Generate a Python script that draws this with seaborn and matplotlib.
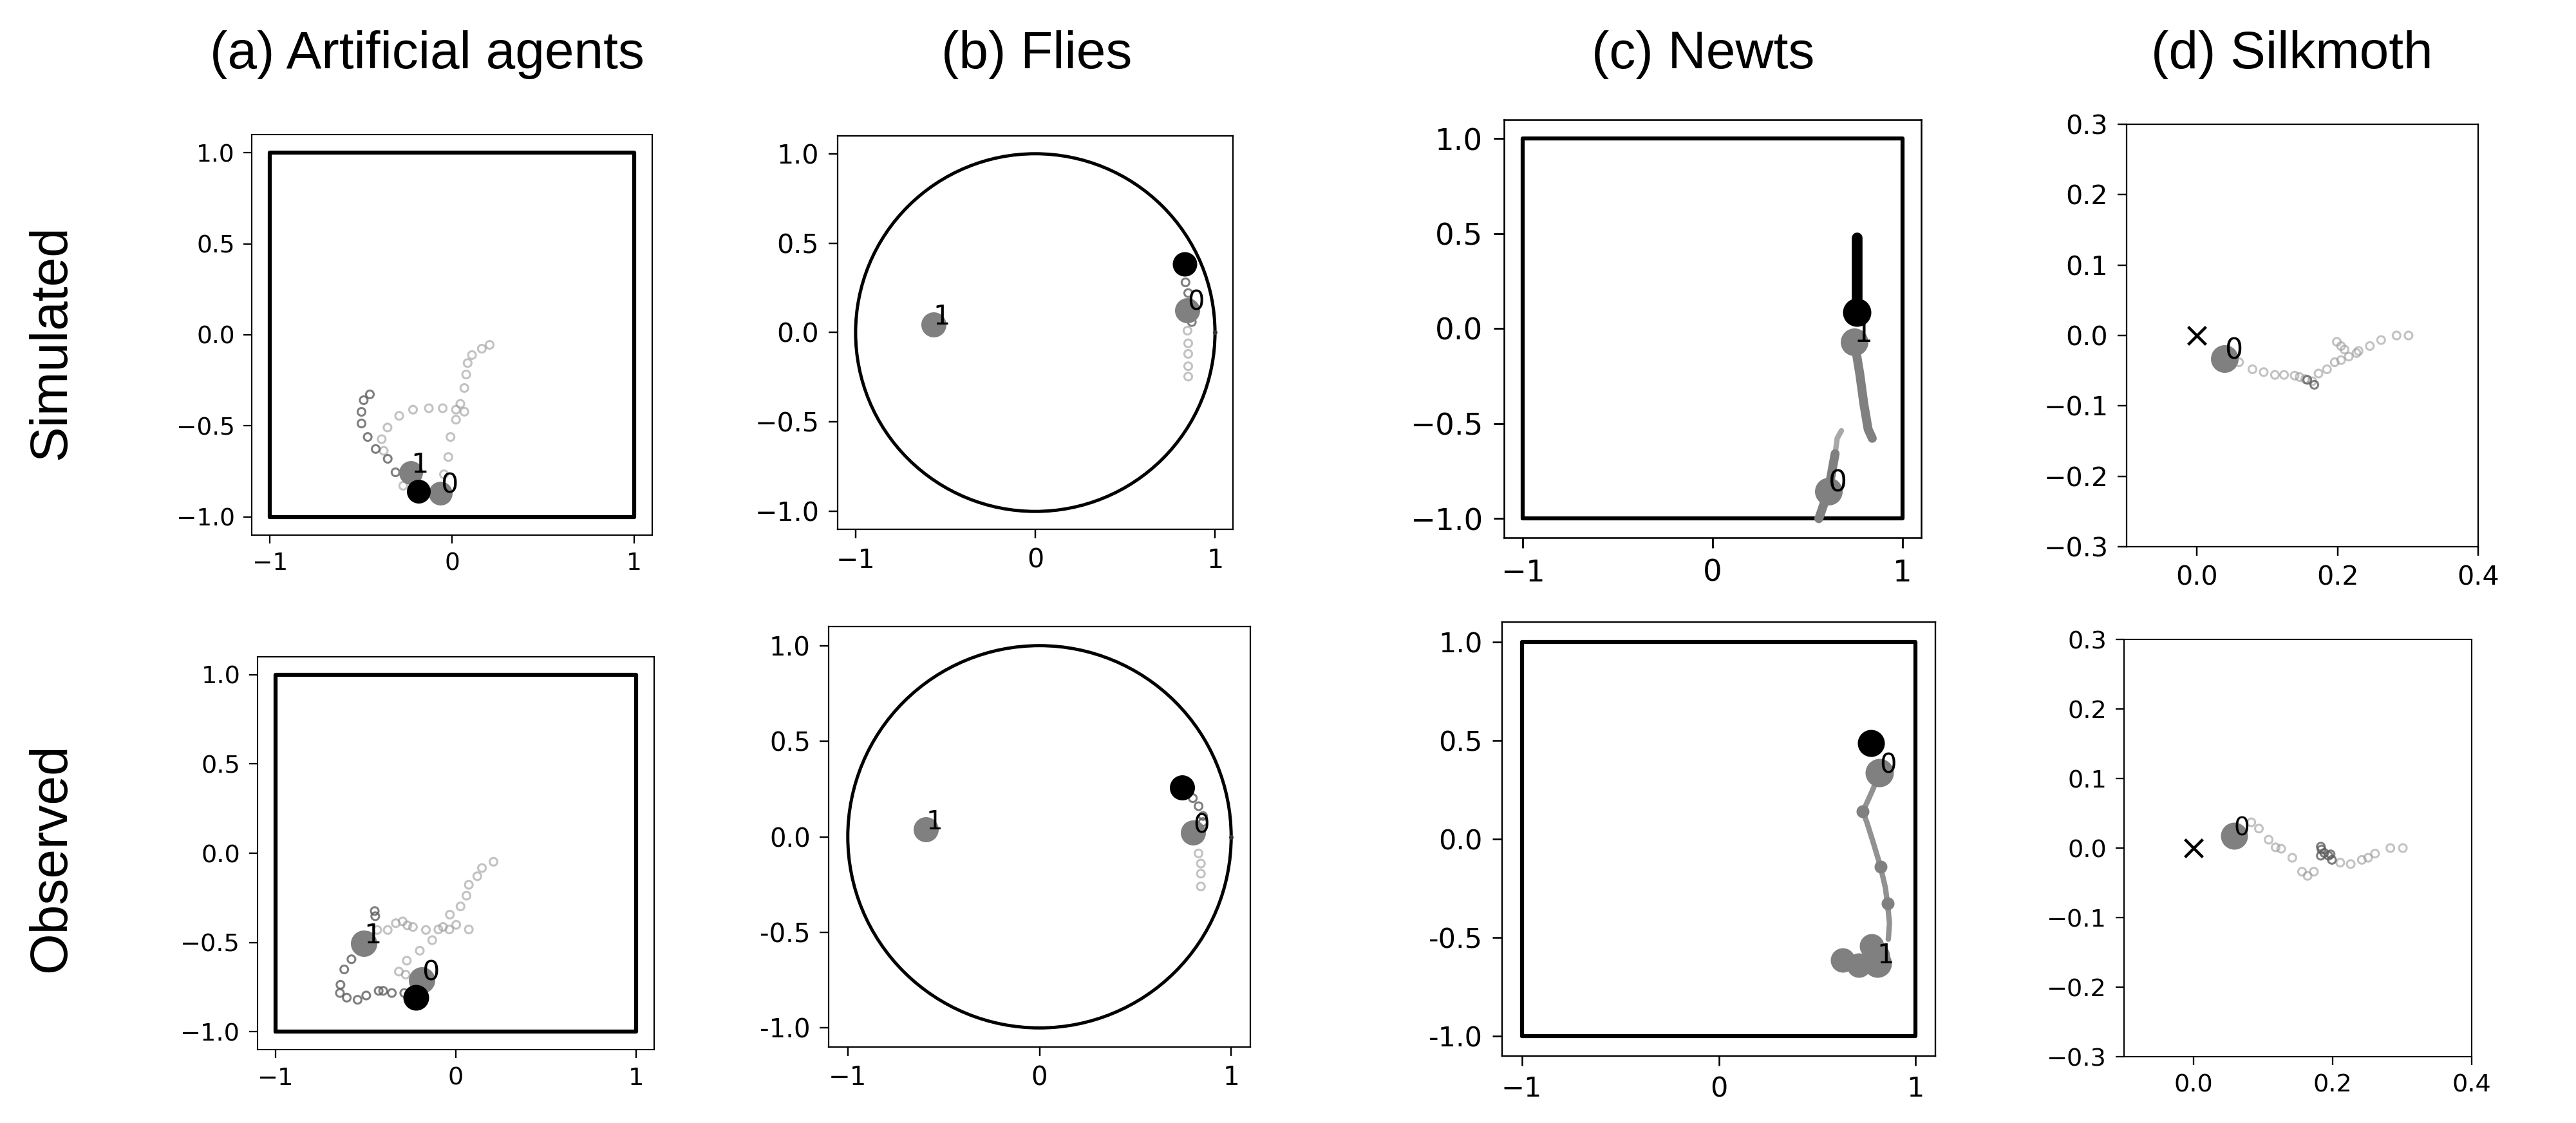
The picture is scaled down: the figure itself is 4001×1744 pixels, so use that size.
import pandas as pd
import seaborn as sns
import matplotlib.pyplot as plt

# titles
col_titles = ["(a) Artificial agents", "(b) Flies", "(c) Newts", "(d) Silkmoth"]
row_titles = ["Simulated", "Observed"]

# arenas
arena_x = [-1, 1, 1, -1, -1]
arena_y = [-1, -1, 1, 1, -1]
fly_arena_r = 1.0
fly_edge_x = [1.0]
fly_edge_y = [0.0]
odor_x = [0.0]
odor_y = [0.0]

# (a) artificial agents - simulated
agents_sim_pos_x = [-0.064, -0.225]
agents_sim_pos_y = [-0.869, -0.758]
agents_sim_black_x = [-0.183]
agents_sim_black_y = [-0.861]
agents_sim_dark_x = [-0.451, -0.485, -0.497, -0.497, -0.463, -0.419, -0.353, -0.31]
agents_sim_dark_y = [-0.327, -0.359, -0.423, -0.487, -0.561, -0.627, -0.681, -0.755]
agents_sim_light_x = [0.207, 0.164, 0.110, 0.086, 0.078, 0.068, 0.046, 0.068, 0.022, -0.008, -0.020,
                      -0.044, 0.022, -0.051, -0.127, -0.214, -0.29, -0.354, -0.386, -0.375, -0.268]
agents_sim_light_y = [-0.055, -0.076, -0.111, -0.155, -0.218, -0.292, -0.379, -0.422, -0.466, -0.561, -0.671,
                      -0.766, -0.411, -0.403, -0.403, -0.411, -0.445, -0.509, -0.573, -0.637, -0.829]

# (a) artificial agents - observed
agents_obs_pos_x = [-0.188, -0.51]
agents_obs_pos_y = [-0.711, -0.504]
agents_obs_black_x = [-0.222]
agents_obs_black_y = [-0.809]
agents_obs_dark_x = [-0.45, -0.447, -0.484, -0.522, -0.579, -0.619, -0.64, -0.643, -0.605, -0.545, -0.497,
                     -0.428, -0.403, -0.355, -0.286]
agents_obs_dark_y = [-0.324, -0.353, -0.465, -0.534, -0.594, -0.651, -0.737, -0.783, -0.809, -0.821, -0.797,
                     -0.771, -0.771, -0.783, -0.783]
agents_obs_light_x = [-0.436, -0.378, -0.333, -0.295, -0.269, -0.238, -0.166, -0.097, -0.071, -0.036, 0.002,
                      0.072, -0.131, -0.2, -0.272, -0.316, -0.278, 0.209, 0.145, 0.119, 0.072, 0.059, 0.026, -0.033]
agents_obs_light_y = [-0.43, -0.43, -0.392, -0.382, -0.404, -0.413, -0.43, -0.427, -0.413, -0.427, -0.401,
                      -0.427, -0.487, -0.546, -0.602, -0.663, -0.68, -0.048, -0.083, -0.129, -0.177, -0.238,
                      -0.298, -0.344]

# (b) flies - simulated
flies_sim_pos_x = [0.847, -0.567]
flies_sim_pos_y = [0.126, 0.046]
flies_sim_black_x = [0.832]
flies_sim_black_y = [0.385]
flies_sim_dark_x = [0.836, 0.851, 0.851, 0.863, 0.871]
flies_sim_dark_y = [0.281, 0.221, 0.162, 0.107, 0.059]
flies_sim_light_x = [0.847, 0.851, 0.851, 0.851, 0.851]
flies_sim_light_y = [0.011, -0.060, -0.119, -0.188, -0.246]

# (b) flies - observed
flies_obs_pos_x = [0.802, -0.592]
flies_obs_pos_y = [0.021, 0.04]
flies_obs_black_x = [0.744]
flies_obs_black_y = [0.257]
flies_obs_dark_x = [0.80, 0.83, 0.853, 0.853]
flies_obs_dark_y = [0.202, 0.16, 0.109, 0.077]
flies_obs_light_x = [0.83, 0.842, 0.842, 0.842]
flies_obs_light_y = [-0.087, -0.14, -0.193, -0.26]

# (c) newts - simulated
newts_sim_pos_x = [0.61, 0.748]
newts_sim_pos_y = [-0.856, -0.068]
newts_sim_black_x = [0.761]
newts_sim_black_y = [0.085]
newts_sim_black_path_x = [0.761, 0.761]
newts_sim_black_path_y = [0.481, 0.085]
newts_sim_path1_x = [0.748, 0.776, 0.798, 0.82, 0.842]
newts_sim_path1_y = [-0.068, -0.238, -0.399, -0.529, -0.577]
newts_sim_path0_x = [0.56, 0.61, 0.646]
newts_sim_path0_y = [-1.0, -0.856, -0.658]
newts_sim_path0_old_x = [0.646, 0.657, 0.679]
newts_sim_path0_old_y = [-0.658, -0.577, -0.537]

# (c) newts - observed
newts_obs_pos_x = [0.815, 0.805]
newts_obs_pos_y = [0.336, -0.631]
newts_obs_black_x = [0.773]
newts_obs_black_y = [0.487]
newts_obs_path_x = [0.815, 0.784, 0.732, 0.753, 0.784, 0.821, 0.846, 0.857, 0.867, 0.861]
newts_obs_path_y = [0.336, 0.254, 0.139, 0.082, -0.016, -0.139, -0.246, -0.328, -0.426, -0.508]
newts_obs_dots_x = [0.732, 0.821, 0.857]
newts_obs_dots_y = [0.139, -0.139, -0.328]
newts_obs_cluster_x = [0.628, 0.711, 0.778, 0.805]
newts_obs_cluster_y = [-0.615, -0.639, -0.541, -0.59]

# (d) silkmoth - simulated
moth_sim_pos_x = [0.039]
moth_sim_pos_y = [-0.033]
moth_sim_dark_x = [0.157, 0.167]
moth_sim_dark_y = [-0.063, -0.07]
moth_sim_light_x = [0.060, 0.079, 0.095, 0.111, 0.124, 0.139, 0.146, 0.154, 0.164, 0.173, 0.185, 0.196,
                    0.205, 0.216, 0.227, 0.23, 0.199, 0.205, 0.21, 0.246, 0.262, 0.284, 0.301]
moth_sim_light_y = [-0.038, -0.048, -0.052, -0.056, -0.056, -0.057, -0.059, -0.062, -0.065, -0.054, -0.048,
                    -0.038, -0.035, -0.030, -0.025, -0.022, -0.009, -0.015, -0.02, -0.015, -0.0065, 0.0, 0.0]

# (d) silkmoth - observed
moth_obs_pos_x = [0.058]
moth_obs_pos_y = [0.018]
moth_obs_dark_x = [0.183, 0.184, 0.188, 0.194, 0.199, 0.197, 0.183]
moth_obs_dark_y = [0.002, -0.002, -0.007, -0.011, -0.017, -0.009, -0.011]
moth_obs_light_x = [0.083, 0.094, 0.108, 0.118, 0.126, 0.142, 0.156, 0.164, 0.173, 0.226, 0.242, 0.251,
                    0.261, 0.283, 0.301, 0.211]
moth_obs_light_y = [0.037, 0.028, 0.012, 0.001, -0.001, -0.014, -0.034, -0.04, -0.034, -0.023, -0.017,
                    -0.014, -0.008, 0.0, 0.0, -0.021]

sns.set_style("ticks", {"axes.edgecolor": "black", "xtick.color": "black", "ytick.color": "black",
                        "text.color": "black", "axes.labelcolor": "black"})
plt.rcParams['font.family'] = ['DejaVu Sans']

W, H = 4001, 1744
fig = plt.figure(figsize=(W / 100, H / 100), dpi=100)


def add_panel(x0, y0, x1, y1):
    return fig.add_axes([x0 / W, 1 - y1 / H, (x1 - x0) / W, (y1 - y0) / H])


def style(ax, k, lims, xticks, yticks, hyphen=False):
    ax.set_xlim(lims[0])
    ax.set_ylim(lims[1])
    ax.set_xticks(xticks)
    ax.set_yticks(yticks)
    if hyphen:
        ax.set_yticklabels([f"{v:.1f}" for v in yticks])
    ax.tick_params(length=3.5 * k, width=0.6 * k, pad=3.5 * k, labelsize=10 * k)
    for sp in ax.spines.values():
        sp.set_linewidth(0.55 * k)
        sp.set_color("black")
    ax.set_xlabel("")
    ax.set_ylabel("")


def rings(ax, xs, ys, color, alpha):
    sns.scatterplot(x=xs, y=ys, ax=ax, s=75, color=color, edgecolor=color,
                    linewidth=2.2, alpha=alpha, legend=False, zorder=3)
    ax.collections[-1].set_facecolor("none")


def dots(ax, xs, ys, color, diam_px, z=4):
    sns.scatterplot(x=xs, y=ys, ax=ax, s=(diam_px / 1.389) ** 2, color=color,
                    linewidth=0, legend=False, zorder=z)


def labels(ax, xs, ys, fs):
    for i, (x, y) in enumerate(zip(xs, ys)):
        ax.text(x, y, str(i), fontsize=fs, zorder=6)


def square(ax):
    sns.lineplot(x=arena_x, y=arena_y, sort=False, estimator=None, color="black", lw=4.5, ax=ax)


def circle(ax):
    ax.add_patch(plt.Circle((0, 0), fly_arena_r, fill=False, lw=3.6, color="black"))
    dots(ax, fly_edge_x, fly_edge_y, "#333333", 7, z=2)


sq_lims = ((-1.1, 1.1), (-1.1, 1.1))
sq_xt = [-1, 0, 1]
sq_yt = [-1.0, -0.5, 0.0, 0.5, 1.0]
moth_lims = ((-0.1, 0.4), (-0.3, 0.3))
moth_xt = [0.0, 0.2, 0.4]
moth_yt = [-0.3, -0.2, -0.1, 0.0, 0.1, 0.2, 0.3]
dark, light, agent_gray = "#5e5e5e", "#9a9a9a", "#808080"

# ---- (a) artificial agents
ax = add_panel(391, 209, 1013, 831)
square(ax)
rings(ax, agents_sim_light_x, agents_sim_light_y, light, 0.6)
rings(ax, agents_sim_dark_x, agents_sim_dark_y, dark, 0.8)
dots(ax, agents_sim_pos_x, agents_sim_pos_y, agent_gray, 37)
dots(ax, agents_sim_black_x, agents_sim_black_y, "black", 37, z=5)
labels(ax, agents_sim_pos_x, agents_sim_pos_y, 31)
style(ax, 2.7, sq_lims, sq_xt, sq_yt)

ax = add_panel(400, 1020, 1016, 1630)
square(ax)
rings(ax, agents_obs_light_x, agents_obs_light_y, light, 0.6)
rings(ax, agents_obs_dark_x, agents_obs_dark_y, dark, 0.8)
dots(ax, agents_obs_pos_x, agents_obs_pos_y, agent_gray, 41)
dots(ax, agents_obs_black_x, agents_obs_black_y, "black", 40, z=5)
labels(ax, agents_obs_pos_x, agents_obs_pos_y, 31)
style(ax, 2.75, sq_lims, sq_xt, sq_yt)

# ---- (b) flies
ax = add_panel(1301, 211, 1915, 822)
circle(ax)
rings(ax, flies_sim_light_x, flies_sim_light_y, light, 0.6)
rings(ax, flies_sim_dark_x, flies_sim_dark_y, dark, 0.8)
dots(ax, flies_sim_pos_x, flies_sim_pos_y, agent_gray, 39)
dots(ax, flies_sim_black_x, flies_sim_black_y, "black", 38, z=5)
labels(ax, flies_sim_pos_x, flies_sim_pos_y, 30)
style(ax, 2.96, sq_lims, sq_xt, sq_yt)

ax = add_panel(1287, 973, 1942, 1626)
circle(ax)
rings(ax, flies_obs_light_x, flies_obs_light_y, light, 0.6)
rings(ax, flies_obs_dark_x, flies_obs_dark_y, dark, 0.8)
dots(ax, flies_obs_pos_x, flies_obs_pos_y, agent_gray, 39)
dots(ax, flies_obs_black_x, flies_obs_black_y, "black", 39, z=5)
labels(ax, flies_obs_pos_x, flies_obs_pos_y, 29)
style(ax, 2.9, sq_lims, sq_xt, sq_yt, hyphen=True)

# ---- (c) newts
ax = add_panel(2336, 186, 2984, 835)
square(ax)
sns.lineplot(x=newts_sim_path0_old_x, y=newts_sim_path0_old_y, sort=False, estimator=None,
             color="#a8a8a8", lw=6, ax=ax)
sns.lineplot(x=newts_sim_path0_x, y=newts_sim_path0_y, sort=False, estimator=None,
             color=agent_gray, lw=10, ax=ax)
sns.lineplot(x=newts_sim_path1_x, y=newts_sim_path1_y, sort=False, estimator=None,
             color=agent_gray, lw=10, ax=ax)
sns.lineplot(x=newts_sim_black_path_x, y=newts_sim_black_path_y, sort=False, estimator=None,
             color="black", lw=12, ax=ax)
dots(ax, newts_sim_pos_x, newts_sim_pos_y, agent_gray, 43)
dots(ax, newts_sim_black_x, newts_sim_black_y, "black", 44, z=5)
labels(ax, newts_sim_pos_x, newts_sim_pos_y, 33)
style(ax, 3.36, sq_lims, sq_xt, sq_yt)

ax = add_panel(2333, 966, 3006, 1640)
square(ax)
sns.lineplot(x=newts_obs_path_x, y=newts_obs_path_y, sort=False, estimator=None,
             color="#929292", lw=6, ax=ax)
dots(ax, newts_obs_dots_x, newts_obs_dots_y, agent_gray, 20)
dots(ax, newts_obs_cluster_x, newts_obs_cluster_y, agent_gray, 38)
dots(ax, newts_obs_pos_x, newts_obs_pos_y, agent_gray, 44)
dots(ax, newts_obs_black_x, newts_obs_black_y, "black", 42, z=5)
labels(ax, newts_obs_pos_x, newts_obs_pos_y, 30)
style(ax, 3.1, sq_lims, sq_xt, sq_yt, hyphen=True)

# ---- (d) silkmoth
ax = add_panel(3303, 193, 3849, 849)
rings(ax, moth_sim_light_x, moth_sim_light_y, light, 0.6)
rings(ax, moth_sim_dark_x, moth_sim_dark_y, dark, 0.8)
dots(ax, moth_sim_pos_x, moth_sim_pos_y, agent_gray, 43)
sns.scatterplot(x=odor_x, y=odor_y, ax=ax, marker="x", s=400, color="black", linewidth=3.2, legend=False)
labels(ax, moth_sim_pos_x, moth_sim_pos_y, 32)
style(ax, 2.96, moth_lims, moth_xt, moth_yt)

ax = add_panel(3299, 993, 3839, 1641)
rings(ax, moth_obs_light_x, moth_obs_light_y, light, 0.6)
rings(ax, moth_obs_dark_x, moth_obs_dark_y, dark, 0.8)
dots(ax, moth_obs_pos_x, moth_obs_pos_y, agent_gray, 42)
sns.scatterplot(x=odor_x, y=odor_y, ax=ax, marker="x", s=400, color="black", linewidth=3.2, legend=False)
labels(ax, moth_obs_pos_x, moth_obs_pos_y, 28)
style(ax, 2.75, moth_lims, moth_xt, moth_yt)

# column and row headings
title_font = ['Liberation Sans', 'DejaVu Sans']
for title, cx in zip(col_titles, [663, 1610, 2645, 3560]):
    fig.text(cx / W, 1 - 106 / H, title, fontsize=59, family=title_font, ha="center", va="baseline")
for title, cy in zip(row_titles, [532, 1332]):
    fig.text(80 / W, 1 - cy / H, title, fontsize=59, family=title_font, rotation=90,
             ha="center", va="center")

plt.savefig("out.png", dpi=100)
